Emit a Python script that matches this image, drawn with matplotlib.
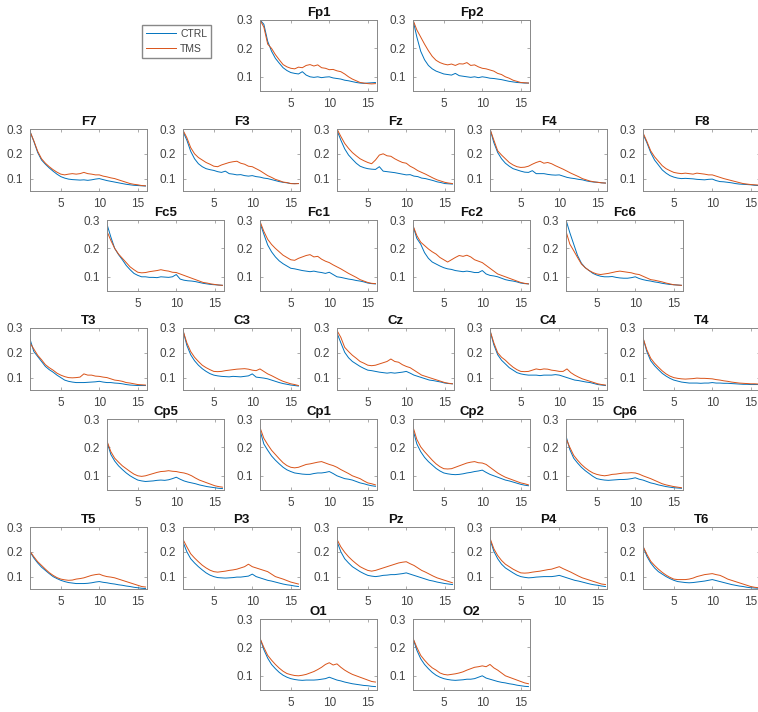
import numpy as np
import matplotlib
matplotlib.use("Agg")
import matplotlib.pyplot as plt

plt.rcParams['font.family'] = ['Liberation Sans', 'DejaVu Sans']

# frequency axis (Hz), one value every 0.5 Hz
freqs = [1, 1.5, 2, 2.5, 3, 3.5, 4, 4.5, 5, 5.5, 6, 6.5, 7, 7.5, 8, 8.5,
         9, 9.5, 10, 10.5, 11, 11.5, 12, 12.5, 13, 13.5, 14, 14.5, 15, 15.5, 16]

# spectra, values x 1000
fp1_ctrl = [300, 285, 225, 190, 165, 148, 132, 122, 115, 112, 110, 118, 106, 100, 98, 100, 97, 99, 100, 96, 94, 92, 88, 86, 83, 80, 78, 77, 78, 79, 80]
fp1_tms = [300, 275, 215, 200, 178, 160, 143, 135, 130, 128, 134, 132, 140, 143, 138, 142, 132, 130, 125, 126, 121, 118, 110, 100, 92, 86, 80, 78, 76, 75, 76]
fp2_ctrl = [300, 240, 190, 160, 140, 128, 120, 115, 110, 108, 106, 112, 104, 102, 100, 98, 100, 97, 100, 98, 95, 94, 92, 90, 87, 84, 82, 80, 79, 78, 78]
fp2_tms = [300, 265, 240, 215, 192, 172, 158, 150, 145, 142, 145, 140, 146, 145, 150, 140, 142, 135, 130, 128, 124, 120, 112, 108, 100, 95, 88, 84, 80, 79, 78]

f7_ctrl = [290, 250, 205, 175, 158, 143, 130, 118, 108, 102, 98, 96, 95, 94, 95, 93, 95, 98, 100, 96, 92, 89, 86, 83, 80, 77, 75, 73, 72, 71, 70]
f7_tms = [290, 252, 210, 180, 162, 148, 136, 126, 118, 115, 118, 120, 118, 120, 125, 120, 118, 115, 115, 110, 107, 103, 100, 95, 90, 85, 80, 77, 75, 72, 71]
f3_ctrl = [290, 255, 210, 180, 160, 148, 140, 136, 133, 128, 125, 130, 120, 118, 115, 116, 112, 110, 112, 108, 106, 102, 100, 96, 92, 88, 85, 83, 80, 80, 80]
f3_tms = [295, 265, 225, 200, 185, 175, 165, 158, 150, 148, 155, 160, 165, 168, 170, 162, 158, 150, 148, 140, 132, 122, 112, 105, 97, 92, 86, 84, 80, 79, 80]
fz_ctrl = [295, 255, 220, 195, 178, 162, 150, 144, 140, 138, 137, 148, 130, 128, 126, 124, 121, 118, 115, 116, 110, 108, 102, 100, 96, 92, 87, 84, 80, 79, 78]
fz_tms = [300, 270, 242, 222, 205, 192, 180, 172, 165, 160, 175, 195, 200, 192, 190, 180, 172, 165, 162, 150, 142, 132, 125, 118, 110, 102, 95, 90, 85, 82, 80]
f4_ctrl = [300, 245, 205, 180, 162, 150, 140, 135, 130, 126, 125, 132, 120, 120, 120, 117, 115, 114, 115, 110, 105, 102, 100, 97, 95, 91, 88, 86, 85, 83, 82]
f4_tms = [300, 255, 212, 195, 180, 165, 155, 148, 145, 146, 150, 158, 165, 170, 162, 165, 160, 152, 145, 138, 130, 122, 115, 108, 100, 95, 90, 87, 85, 83, 82]
f8_ctrl = [280, 245, 205, 175, 155, 135, 122, 112, 106, 102, 100, 101, 100, 99, 97, 96, 95, 97, 98, 92, 88, 87, 85, 83, 80, 78, 77, 76, 75, 73, 72]
f8_tms = [285, 250, 212, 188, 170, 152, 140, 132, 125, 122, 120, 122, 120, 118, 122, 120, 118, 115, 115, 110, 105, 100, 96, 92, 88, 84, 80, 78, 76, 75, 74]

fc5_ctrl = [285, 240, 200, 178, 160, 140, 125, 112, 105, 100, 100, 98, 98, 97, 100, 99, 98, 100, 108, 92, 88, 86, 85, 83, 80, 77, 75, 73, 72, 71, 70]
fc5_tms = [260, 228, 200, 180, 165, 150, 135, 125, 116, 114, 115, 118, 120, 122, 125, 122, 120, 116, 115, 110, 105, 100, 95, 90, 85, 80, 78, 75, 73, 71, 70]
fc1_ctrl = [290, 250, 212, 188, 170, 156, 146, 138, 130, 128, 125, 122, 120, 118, 120, 117, 115, 112, 116, 108, 100, 98, 95, 92, 90, 87, 85, 82, 78, 76, 75]
fc1_tms = [295, 260, 232, 214, 200, 188, 176, 168, 160, 158, 165, 170, 175, 178, 170, 172, 162, 155, 150, 142, 135, 128, 120, 112, 105, 98, 90, 85, 80, 77, 76]
fc2_ctrl = [280, 235, 215, 185, 165, 152, 145, 138, 132, 128, 126, 122, 120, 118, 120, 118, 115, 115, 122, 110, 105, 103, 100, 95, 90, 87, 85, 82, 78, 76, 75]
fc2_tms = [280, 245, 222, 210, 198, 188, 180, 168, 160, 152, 160, 168, 175, 172, 176, 170, 160, 155, 150, 140, 130, 120, 110, 105, 100, 95, 90, 85, 80, 77, 75]
fc6_ctrl = [300, 255, 215, 175, 148, 132, 122, 112, 106, 102, 100, 100, 101, 98, 96, 95, 95, 97, 100, 94, 90, 87, 85, 82, 80, 77, 75, 73, 72, 71, 70]
fc6_tms = [260, 215, 192, 168, 145, 132, 122, 115, 110, 108, 110, 112, 115, 118, 120, 118, 116, 114, 110, 108, 102, 96, 90, 88, 85, 82, 78, 75, 72, 71, 70]

t3_ctrl = [255, 205, 185, 165, 145, 132, 122, 110, 100, 90, 85, 82, 80, 80, 80, 81, 82, 83, 85, 82, 80, 80, 78, 77, 75, 72, 70, 69, 68, 68, 68]
t3_tms = [240, 215, 190, 172, 152, 140, 130, 118, 110, 104, 100, 99, 100, 102, 115, 110, 110, 106, 105, 102, 100, 95, 90, 88, 85, 80, 78, 75, 72, 71, 70]
c3_ctrl = [290, 230, 192, 168, 150, 136, 125, 116, 110, 107, 105, 104, 103, 105, 104, 103, 105, 107, 115, 102, 100, 98, 95, 90, 85, 80, 76, 73, 70, 68, 66]
c3_tms = [290, 240, 205, 182, 165, 150, 140, 132, 125, 124, 125, 128, 130, 132, 134, 135, 136, 134, 130, 128, 135, 125, 115, 108, 100, 92, 85, 80, 75, 72, 68]
cz_ctrl = [280, 240, 202, 180, 165, 155, 145, 137, 130, 128, 125, 122, 120, 118, 120, 118, 120, 122, 125, 118, 110, 105, 100, 95, 90, 88, 85, 82, 78, 76, 75]
cz_tms = [290, 262, 222, 205, 190, 178, 165, 158, 150, 148, 150, 155, 160, 165, 175, 165, 162, 152, 145, 140, 130, 120, 110, 105, 100, 95, 90, 85, 80, 77, 75]
c4_ctrl = [290, 232, 192, 170, 155, 140, 130, 120, 115, 112, 110, 110, 110, 108, 110, 110, 110, 112, 110, 105, 100, 95, 90, 88, 85, 82, 80, 76, 72, 70, 68]
c4_tms = [290, 240, 200, 182, 170, 155, 142, 132, 125, 124, 125, 130, 135, 132, 135, 134, 130, 128, 125, 125, 135, 120, 110, 102, 95, 90, 85, 80, 75, 72, 70]
t4_ctrl = [260, 205, 168, 148, 132, 117, 106, 97, 90, 86, 82, 80, 78, 78, 78, 77, 78, 78, 80, 78, 78, 77, 77, 76, 75, 74, 73, 73, 72, 72, 72]
t4_tms = [260, 212, 178, 158, 142, 127, 115, 106, 100, 97, 95, 94, 95, 96, 98, 97, 97, 96, 95, 92, 90, 87, 85, 82, 80, 78, 77, 76, 75, 75, 74]

cp5_ctrl = [220, 175, 152, 135, 122, 110, 100, 92, 85, 82, 80, 81, 82, 84, 85, 84, 86, 90, 95, 88, 82, 78, 75, 72, 68, 65, 62, 60, 58, 56, 55]
cp5_tms = [222, 185, 162, 148, 135, 125, 115, 106, 100, 98, 100, 104, 108, 112, 115, 116, 118, 116, 115, 112, 110, 106, 100, 92, 85, 80, 75, 70, 65, 62, 60]
cp1_ctrl = [260, 212, 190, 170, 155, 142, 130, 121, 115, 110, 108, 106, 105, 105, 108, 110, 110, 112, 115, 108, 100, 95, 90, 88, 85, 80, 75, 72, 68, 65, 63]
cp1_tms = [270, 232, 210, 190, 175, 160, 146, 136, 130, 128, 130, 135, 140, 142, 145, 148, 150, 145, 140, 136, 130, 122, 115, 108, 100, 95, 90, 82, 75, 72, 68]
cp2_ctrl = [262, 212, 185, 165, 150, 138, 126, 117, 110, 107, 105, 104, 105, 107, 110, 112, 115, 117, 120, 112, 105, 100, 95, 90, 85, 82, 78, 74, 70, 67, 65]
cp2_tms = [272, 228, 202, 185, 170, 155, 142, 132, 125, 124, 125, 130, 135, 140, 145, 148, 150, 146, 145, 140, 130, 120, 110, 102, 95, 90, 85, 80, 75, 72, 68]
cp6_ctrl = [240, 192, 162, 145, 130, 118, 108, 98, 90, 87, 85, 84, 85, 86, 87, 87, 88, 90, 93, 88, 85, 80, 75, 72, 68, 65, 62, 60, 58, 57, 56]
cp6_tms = [232, 200, 172, 155, 140, 128, 118, 110, 105, 102, 100, 102, 105, 106, 108, 110, 110, 111, 110, 106, 100, 95, 90, 84, 78, 72, 68, 65, 62, 60, 58]

t5_ctrl = [200, 175, 155, 138, 125, 112, 100, 92, 85, 80, 76, 74, 72, 72, 72, 73, 75, 78, 80, 77, 75, 72, 70, 67, 65, 62, 60, 57, 55, 53, 52]
t5_tms = [202, 180, 160, 145, 130, 116, 105, 96, 90, 87, 85, 86, 90, 92, 95, 100, 105, 108, 110, 104, 100, 98, 95, 90, 85, 80, 75, 70, 65, 60, 58]
p3_ctrl = [240, 200, 172, 155, 140, 127, 115, 106, 100, 96, 95, 94, 95, 96, 98, 98, 100, 102, 110, 100, 95, 90, 85, 82, 78, 74, 70, 67, 65, 62, 60]
p3_tms = [250, 220, 192, 175, 160, 146, 135, 126, 120, 118, 120, 122, 125, 127, 130, 135, 140, 150, 140, 135, 130, 125, 120, 110, 100, 95, 90, 84, 78, 74, 70]
pz_ctrl = [242, 200, 172, 155, 140, 130, 120, 112, 105, 102, 100, 102, 105, 106, 108, 108, 110, 112, 115, 110, 105, 100, 95, 90, 85, 82, 78, 75, 72, 70, 68]
pz_tms = [250, 220, 198, 180, 165, 152, 140, 132, 125, 122, 125, 130, 135, 140, 145, 150, 155, 158, 160, 152, 145, 135, 125, 118, 110, 102, 95, 90, 85, 80, 75]
p4_ctrl = [250, 202, 172, 150, 135, 125, 115, 106, 100, 97, 95, 96, 98, 99, 100, 100, 100, 102, 105, 100, 95, 90, 85, 82, 78, 74, 70, 67, 65, 62, 60]
p4_tms = [255, 212, 185, 165, 150, 140, 130, 122, 115, 114, 115, 118, 120, 122, 125, 128, 130, 135, 140, 132, 125, 118, 110, 102, 95, 90, 85, 80, 75, 70, 68]
t6_ctrl = [222, 182, 155, 135, 120, 110, 100, 92, 85, 80, 78, 76, 75, 76, 78, 80, 82, 85, 88, 84, 80, 76, 72, 68, 65, 62, 60, 57, 55, 54, 53]
t6_tms = [222, 190, 162, 145, 130, 117, 106, 97, 90, 88, 88, 88, 90, 94, 100, 104, 108, 110, 112, 108, 105, 98, 90, 85, 80, 75, 70, 65, 60, 57, 55]

o1_ctrl = [232, 192, 162, 140, 125, 112, 102, 95, 90, 87, 85, 84, 85, 85, 85, 86, 88, 90, 95, 90, 85, 82, 78, 75, 72, 70, 68, 66, 65, 63, 62]
o1_tms = [232, 200, 172, 155, 140, 127, 116, 108, 104, 101, 100, 102, 105, 110, 115, 122, 130, 140, 146, 138, 142, 130, 120, 112, 105, 100, 95, 90, 85, 80, 78]
o2_ctrl = [232, 190, 160, 140, 125, 112, 102, 95, 90, 87, 85, 84, 85, 86, 88, 88, 90, 95, 100, 92, 88, 84, 80, 77, 75, 72, 70, 67, 65, 63, 62]
o2_tms = [232, 200, 172, 155, 140, 128, 120, 110, 105, 103, 105, 107, 110, 114, 120, 125, 130, 132, 135, 132, 140, 128, 120, 110, 100, 95, 90, 85, 80, 75, 72]

spectra = {
    'Fp1': (fp1_ctrl, fp1_tms), 'Fp2': (fp2_ctrl, fp2_tms),
    'F7': (f7_ctrl, f7_tms), 'F3': (f3_ctrl, f3_tms), 'Fz': (fz_ctrl, fz_tms),
    'F4': (f4_ctrl, f4_tms), 'F8': (f8_ctrl, f8_tms),
    'Fc5': (fc5_ctrl, fc5_tms), 'Fc1': (fc1_ctrl, fc1_tms),
    'Fc2': (fc2_ctrl, fc2_tms), 'Fc6': (fc6_ctrl, fc6_tms),
    'T3': (t3_ctrl, t3_tms), 'C3': (c3_ctrl, c3_tms), 'Cz': (cz_ctrl, cz_tms),
    'C4': (c4_ctrl, c4_tms), 'T4': (t4_ctrl, t4_tms),
    'Cp5': (cp5_ctrl, cp5_tms), 'Cp1': (cp1_ctrl, cp1_tms),
    'Cp2': (cp2_ctrl, cp2_tms), 'Cp6': (cp6_ctrl, cp6_tms),
    'T5': (t5_ctrl, t5_tms), 'P3': (p3_ctrl, p3_tms), 'Pz': (pz_ctrl, pz_tms),
    'P4': (p4_ctrl, p4_tms), 'T6': (t6_ctrl, t6_tms),
    'O1': (o1_ctrl, o1_tms), 'O2': (o2_ctrl, o2_tms),
}

# scalp layout: rows of channels
rows = [['Fp1', 'Fp2'],
        ['F7', 'F3', 'Fz', 'F4', 'F8'],
        ['Fc5', 'Fc1', 'Fc2', 'Fc6'],
        ['T3', 'C3', 'Cz', 'C4', 'T4'],
        ['Cp5', 'Cp1', 'Cp2', 'Cp6'],
        ['T5', 'P3', 'Pz', 'P4', 'T6'],
        ['O1', 'O2']]

W, H = 758, 712
fig = plt.figure(figsize=(W / 100, H / 100), dpi=100)

col5 = [30, 183, 337, 490, 643]
col4 = [107, 260, 413, 566]
col2 = [260, 413]
row_top = [20, 129, 220, 328, 419, 527, 619]
ax_w = 117

blue = '#0072BD'
orange = '#D95319'
freqs = np.array(freqs)

first = None
for r, chans in enumerate(rows):
    lefts = {5: col5, 4: col4, 2: col2}[len(chans)]
    h = 62 if len(chans) == 5 else 71
    for name, left in zip(chans, lefts):
        ax = fig.add_axes([left / W, 1 - (row_top[r] + h) / H, ax_w / W, h / H])
        ctrl, tms = spectra[name]
        l1, = ax.plot(freqs, np.array(ctrl) / 1000, color=blue, lw=0.7, label='CTRL')
        l2, = ax.plot(freqs, np.array(tms) / 1000, color=orange, lw=0.7, label='TMS')
        if first is None:
            first = (l1, l2)
        ax.set_xlim(1, 16.2)
        ax.set_ylim(0.05, 0.3)
        ax.set_xticks([5, 10, 15])
        ax.set_yticks([0.1, 0.2, 0.3])
        ax.set_yticklabels(['0.1', '0.2', '0.3'])
        ax.tick_params(direction='in', top=True, right=True, length=2.5, width=0.5,
                       color='#888888', labelsize=8.5, labelcolor='#444444', pad=5)
        for s in ax.spines.values():
            s.set_color('#888888')
            s.set_linewidth(0.7)
        ax.set_title(name, fontsize=9.5, fontweight='bold', pad=3, color='#111111')

leg = fig.legend(first, ['CTRL', 'TMS'], loc='upper left',
                 bbox_to_anchor=(142 / W, 1 - 25 / H), borderaxespad=0,
                 fontsize=7.5, handlelength=2.9, handletextpad=0.4,
                 fancybox=False, framealpha=1, edgecolor='#888888',
                 labelspacing=0.5, borderpad=0.35)
for t in leg.get_texts():
    t.set_color('#444444')

fig.savefig('out.png', dpi=100)
